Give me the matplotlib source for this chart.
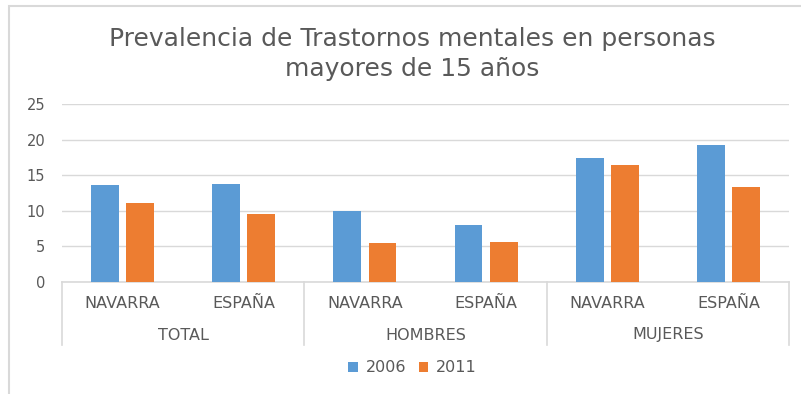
import numpy as np
import matplotlib.pyplot as plt
from matplotlib.patches import Rectangle
import matplotlib.transforms as mtransforms

# Prevalencia de trastornos mentales (%), personas > 15 años
grupos = ['TOTAL', 'HOMBRES', 'MUJERES']
zonas = ['NAVARRA', 'ESPAÑA', 'NAVARRA', 'ESPAÑA', 'NAVARRA', 'ESPAÑA']
v2006 = [13.6, 13.8, 10.0, 8.0, 17.4, 19.2]
v2011 = [11.1, 9.6, 5.5, 5.6, 16.4, 13.3]
yticks = [0, 5, 10, 15, 20, 25]

azul = '#5B9BD5'
naranja = '#ED7D31'
gris_txt = '#595959'
gris_lin = '#D9D9D9'
fuente = 'DejaVu Sans'

W, H = 801, 394
fig = plt.figure(figsize=(W / 100, H / 100), dpi=100)
fig.patch.set_facecolor('white')

# marco del gráfico (sólo asoman los bordes izquierdo y superior)
fig.patches.append(Rectangle((9 / W, -0.5), 2.0, (H - 6) / H + 0.5,
                             transform=fig.transFigure, fill=False,
                             edgecolor=gris_lin, linewidth=1.5))

ax = fig.add_axes([62 / W, (H - 282) / H, (789 - 62) / W, (282 - 104) / H])

x = np.arange(len(zonas))
ancho = 0.23
ax.bar(x - 0.145, v2006, ancho, color=azul, label='2006', zorder=3)
ax.bar(x + 0.145, v2011, ancho, color=naranja, label='2011', zorder=3)

ax.set_xlim(-0.5, len(zonas) - 0.5)
ax.set_ylim(0, 25)
ax.set_yticks(yticks)
ax.yaxis.grid(True, color=gris_lin, linewidth=1, zorder=0)
ax.tick_params(axis='y', length=0, pad=12, labelsize=10.5, labelcolor=gris_txt)
for t in ax.get_yticklabels():
    t.set_fontfamily(fuente)

ax.set_xticks(x)
ax.set_xticklabels(zonas, fontsize=11.5, color=gris_txt, family=fuente)
ax.tick_params(axis='x', length=0, pad=10)

for s in ['top', 'right', 'left']:
    ax.spines[s].set_visible(False)
ax.spines['bottom'].set_color(gris_lin)
ax.spines['bottom'].set_linewidth(1.2)

# separadores de grupo y etiquetas de segundo nivel
trans = mtransforms.blended_transform_factory(ax.transData, ax.transAxes)
baja = -(345 - 282) / (282 - 104)
for xs in [-0.5, 1.5, 3.5, 5.5]:
    ax.plot([xs, xs], [0, baja], color=gris_lin, linewidth=1.2,
            transform=trans, clip_on=False)
for i, g in enumerate(grupos):
    ax.text(2 * i + 0.5, -(335 - 282) / (282 - 104), g, transform=trans,
            ha='center', va='center', fontsize=11.5, color=gris_txt,
            family=fuente)

fig.text(0.515, 1 - 54 / H, 'Prevalencia de Trastornos mentales en personas\nmayores de 15 años',
         ha='center', va='center', fontsize=18, color=gris_txt,
         family=fuente, linespacing=1.28)

ax.legend(loc='center', bbox_to_anchor=(0.515, 1 - 368 / H), bbox_transform=fig.transFigure,
          ncol=2, frameon=False, labelcolor=gris_txt,
          prop={'family': fuente, 'size': 11.5},
          handlelength=0.6, handleheight=0.6, handletextpad=0.5, columnspacing=0.8)

fig.savefig('out.png', dpi=100, facecolor='white')
